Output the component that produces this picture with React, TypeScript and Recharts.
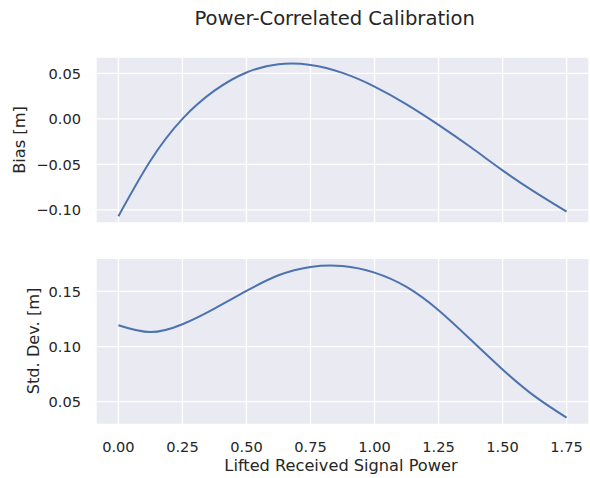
import React from "react";
import { LineChart, Line, XAxis, YAxis, CartesianGrid } from "recharts";

// lifted received signal power (x), sampled every 0.125
const power = [0, 0.125, 0.25, 0.375, 0.5, 0.625, 0.75, 0.875, 1.0, 1.125, 1.25, 1.375, 1.5, 1.625, 1.75];

const bias = [
    -0.107, -0.046, 0.0, 0.031, 0.051, 0.06, 0.0592, 0.0505, 0.0355, 0.016, -0.0066, -0.031, -0.0566, -0.0803, -0.102
];

const stdDev = [
    0.1193, 0.1131, 0.1202, 0.1344, 0.1504, 0.1646, 0.1722, 0.173, 0.167, 0.154, 0.1329, 0.1063, 0.0792, 0.055, 0.0355
];

const xTicks = [0, 0.25, 0.5, 0.75, 1.0, 1.25, 1.5, 1.75];
const biasTicks = [-0.1, -0.05, 0, 0.05];
const stdTicks = [0.05, 0.1, 0.15];

const data = power.map((p, i) => ({ power: p, bias: bias[i], std: stdDev[i] }));

const FONT = "DejaVu Sans, sans-serif";
const INK = "#262626";
const BLUE = "#4C72B0";
const PANEL = "#EAEAF2";

const fmt = (v: number) => (v < 0 ? "\u2212" : "") + Math.abs(v).toFixed(2);
const tickStyle = { fill: INK, fontSize: 14.6, fontFamily: FONT };

const App: React.FC = () => {
    return (
        <div style={{ position: "absolute", left: 0, top: 0, width: 590, height: 478, background: "#fff" }}>
            <div style={{ position: "absolute", left: 0, top: 0 }}>
                <LineChart width={590} height={240} data={data} margin={{ top: 57, right: 1, bottom: 17, left: 0 }}>
                    <CartesianGrid fill={PANEL} stroke="#fff" strokeWidth={1.3} />
                    <XAxis dataKey="power" type="number" domain={[-0.0875, 1.8375]} ticks={xTicks} hide />
                    <YAxis
                        type="number"
                        width={96}
                        domain={[-0.1145, 0.068]}
                        ticks={biasTicks}
                        tickFormatter={fmt}
                        axisLine={false}
                        tickLine={false}
                        tickMargin={9}
                        tick={tickStyle}
                    />
                    <Line type="natural" dataKey="bias" stroke={BLUE} strokeWidth={2} dot={false} isAnimationActive={false} />
                </LineChart>
            </div>
            <div style={{ position: "absolute", left: 0, top: 240 }}>
                <LineChart width={590} height={238} data={data} margin={{ top: 18.3, right: 1, bottom: 23.7, left: 0 }}>
                    <CartesianGrid fill={PANEL} stroke="#fff" strokeWidth={1.3} />
                    <XAxis
                        dataKey="power"
                        type="number"
                        domain={[-0.0875, 1.8375]}
                        ticks={xTicks}
                        tickFormatter={(v: number) => v.toFixed(2)}
                        axisLine={false}
                        tickLine={false}
                        tickMargin={11}
                        height={30}
                        tick={tickStyle}
                    />
                    <YAxis
                        type="number"
                        width={96}
                        domain={[0.0295, 0.18]}
                        ticks={stdTicks}
                        tickFormatter={fmt}
                        axisLine={false}
                        tickLine={false}
                        tickMargin={9}
                        tick={tickStyle}
                    />
                    <Line type="natural" dataKey="std" stroke={BLUE} strokeWidth={2} dot={false} isAnimationActive={false} />
                </LineChart>
            </div>
            {/* titles and axis labels */}
            <svg width={590} height={478} style={{ position: "absolute", left: 0, top: 0, pointerEvents: "none" }}>
                <text x={334.7} y={25} textAnchor="middle" fontFamily={FONT} fontSize={19.6} fill={INK}>
                    Power-Correlated Calibration
                </text>
                <text x={25} y={140} transform="rotate(-90 25 140)" textAnchor="middle" fontFamily={FONT} fontSize={16.2} fill={INK}>
                    Bias [m]
                </text>
                <text x={38.5} y={341} transform="rotate(-90 38.5 341)" textAnchor="middle" fontFamily={FONT} fontSize={16.2} fill={INK}>
                    Std. Dev. [m]
                </text>
                <text x={341} y={471} textAnchor="middle" fontFamily={FONT} fontSize={16.2} fill={INK}>
                    Lifted Received Signal Power
                </text>
            </svg>
        </div>
    );
};

export default App;
